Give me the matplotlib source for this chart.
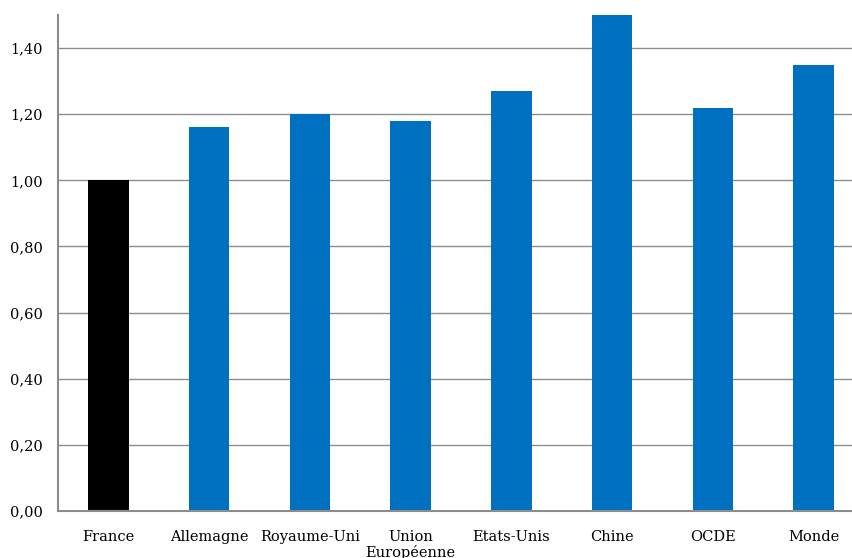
import matplotlib.pyplot as plt
from matplotlib.ticker import FuncFormatter

# Indices par pays (France = 1,00)
pays = ['France', 'Allemagne', 'Royaume-Uni', 'Union\nEuropéenne', 'Etats-Unis',
        'Chine', 'OCDE', 'Monde']
valeurs = [1.00, 1.16, 1.20, 1.18, 1.27, 1.50, 1.22, 1.35]
couleurs = ['#000000'] + ['#0070C0'] * 7
yticks = [0.0, 0.2, 0.4, 0.6, 0.8, 1.0, 1.2, 1.4]

plt.rcParams['font.family'] = ['DejaVu Serif']

fig = plt.figure(figsize=(8.53, 5.58), dpi=100)
ax = fig.add_axes([58 / 853, 47 / 558, 806 / 853, 496 / 558])

x = range(len(pays))
ax.bar(x, valeurs, width=0.4, color=couleurs, zorder=3)

ax.set_xlim(-0.5, len(pays) - 0.5)
ax.set_ylim(0, 1.5)
ax.set_yticks(yticks)
ax.yaxis.set_major_formatter(FuncFormatter(lambda v, p: f'{v:.2f}'.replace('.', ',')))
ax.set_xticks(list(x))
ax.set_xticklabels(pays, va='top', linespacing=1.05)

ax.grid(axis='y', color='#8c8c8c', linewidth=1.0, zorder=0)
for s in ['top', 'right']:
    ax.spines[s].set_visible(False)
for s in ['left', 'bottom']:
    ax.spines[s].set_color('#8c8c8c')
    ax.spines[s].set_linewidth(1.5)
ax.spines['bottom'].set_zorder(4)

ax.tick_params(axis='both', length=0, labelsize=10.5)
ax.tick_params(axis='y', pad=11)
ax.tick_params(axis='x', pad=14)
for lbl in ax.get_xticklabels() + ax.get_yticklabels():
    lbl.set_fontweight('medium')

fig.savefig('out.png', dpi=100)
